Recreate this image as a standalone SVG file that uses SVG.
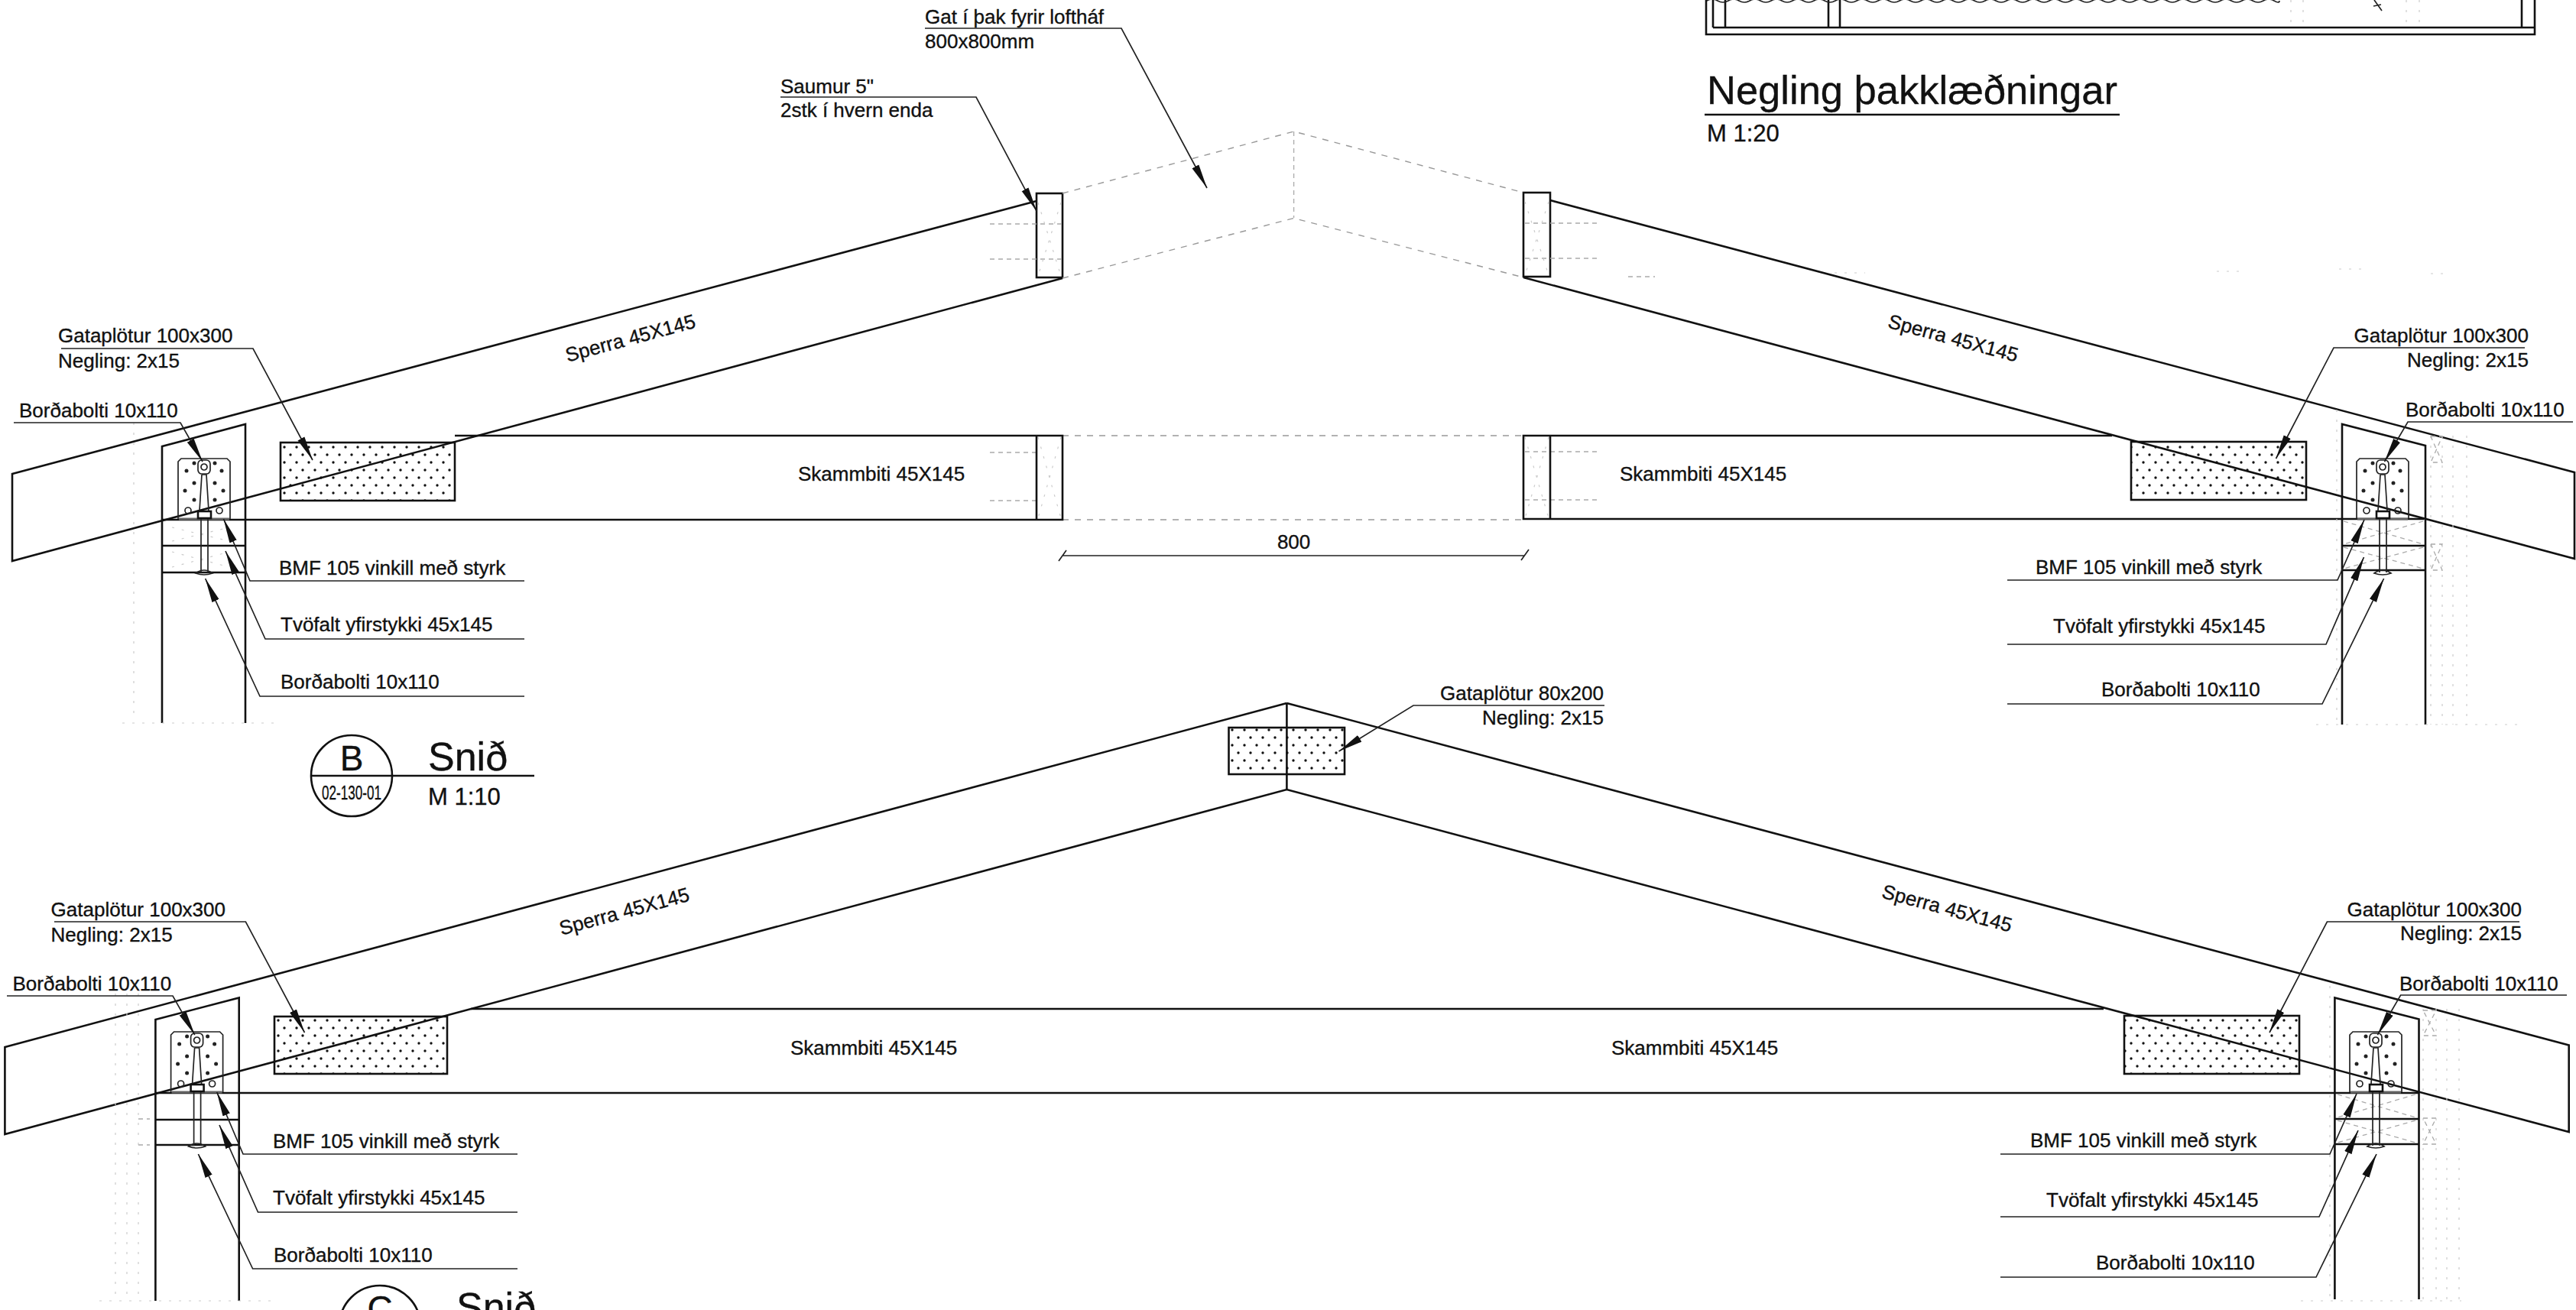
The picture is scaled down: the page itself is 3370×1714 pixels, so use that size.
<svg xmlns="http://www.w3.org/2000/svg" width="3370" height="1714" viewBox="0 0 3370 1714">
<style>
text{font-family:"Liberation Sans",Arial,sans-serif;font-size:26px;fill:#111;stroke:#111;stroke-width:.35}
.b{fill:none;stroke:#111;stroke-width:2.6}
.l{fill:none;stroke:#222;stroke-width:1.7}
.ld{fill:none;stroke:#222;stroke-width:1.7;marker-end:url(#arr)}
.h{fill:none;stroke:#aaa;stroke-width:1.3;stroke-dasharray:6 5}
.f{fill:none;stroke:#ccc;stroke-width:1.2;stroke-dasharray:3 10}
.d{fill:none;stroke:#999;stroke-width:1.4;stroke-dasharray:8 8}
.e{text-anchor:end}
.m{text-anchor:middle}
.plate{fill:url(#dots);stroke:#111;stroke-width:2.6}
</style>
<defs>
<marker id="arr" markerUnits="userSpaceOnUse" markerWidth="32" markerHeight="12" viewBox="0 0 32 12" refX="32" refY="6" orient="auto"><path d="M0,1 L32,6 L0,11 Z" fill="#111"/></marker>
<pattern id="dots" patternUnits="userSpaceOnUse" width="16" height="20"><circle cx="4" cy="5" r="1.7" fill="#111"/><circle cx="12" cy="15" r="1.7" fill="#111"/></pattern>
<g id="bracket">
<path class="l" d="M-34,68 L-34,-7 L-30,-11 L30,-11 L34,-7 L34,68"/>
<path d="M-33,68 H33" stroke="#666" stroke-width="3"/>
<g fill="#222"><circle cx="-13" cy="-5" r="2.5"/><circle cx="14" cy="-5" r="2.5"/><circle cx="-23" cy="5" r="2.5"/><circle cx="23" cy="5" r="2.5"/><circle cx="-13" cy="21" r="2.5"/><circle cx="14" cy="21" r="2.5"/><circle cx="-25" cy="31" r="2.5"/><circle cx="25" cy="31" r="2.5"/><circle cx="-13" cy="43" r="2.5"/><circle cx="14" cy="43" r="2.5"/></g>
<circle class="l" cx="-21" cy="57" r="4"/><circle class="l" cx="20" cy="57" r="4"/>
<rect class="l" x="-8" y="-9" width="16" height="18" rx="5" stroke-width="2.4"/><circle class="l" cx="0" cy="0" r="4"/>
<path class="l" d="M-3,10 L3,10 L6,57 M-3,10 L-6,57"/>
<rect class="b" x="-8" y="58" width="17" height="9"/>
<path class="l" d="M-4,68 V138 M5,68 V138"/>
<path class="l" d="M-11,139 Q0,131 11,139 Q0,143 -11,139Z"/>
</g>
</defs>
<rect width="3370" height="1714" fill="#fff"/>

<g id="negling-plan">
<path class="b" d="M2232,0 V45 H3316 V0 M2241,36 H3316 M2241,0 V36 M2257,0 V36 M2392,0 V36 M2407,0 V36 M3299,0 V36"/>
<path class="l" d="M2233,1 Q2240,-3 2247,1 T2261,1 T2275,1 T2289,1 T2303,1 T2317,1 T2331,1 T2345,1 T2359,1 T2373,1 T2387,1 T2401,1 T2415,1 T2429,1 T2443,1 T2457,1 T2471,1 T2485,1 T2499,1 T2513,1 T2527,1 T2541,1 T2555,1 T2569,1 T2583,1 T2597,1 T2611,1 T2625,1 T2639,1 T2653,1 T2667,1 T2681,1 T2695,1 T2709,1 T2723,1 T2737,1 T2751,1 T2765,1 T2779,1 T2793,1 T2807,1 T2821,1 T2835,1 T2849,1 T2863,1 T2877,1 T2891,1 T2905,1 T2919,1 T2933,1 T2947,1 T2961,1 T2975,1 T2982,1"/>
<path class="f" d="M2997,0 V34 M3013,0 V34 M3148,0 V34 M3165,0 V34"/>
<path class="l" d="M3106,0 L3116,14 M3105,8 L3115,6"/>
<text x="2233" y="136" style="font-size:52.5px">Negling þakklæðningar</text>
<path class="b" d="M2230,150 H2773"/>
<text x="2233" y="185" style="font-size:31px">M 1:20</text>
</g>

<g id="section-b">
<g id="b-rafter-left"><path class="b" d="M1356,263 L16,620 V734 L1390,364"/><rect class="b" x="1356" y="253" width="34" height="110"/></g>
<g id="b-rafter-right"><path class="b" d="M2028,262 L3368,618 V731 L1993,363"/><rect class="b" x="1993" y="252" width="35" height="110"/></g>
<g id="b-opening">
<path class="d" d="M1390,253 L1692.6,172 L1993,252 M1390,364 L1692.6,285.5 L1993,363 M1390,570 H1993 M1390,680 H1993"/>
<path class="h" d="M1692.6,172 V285"/>
<path class="h" d="M1295,293 H1390 M1295,339 H1390 M1295,592 H1356 M1295,655 H1356 M1995,292 H2090 M1995,338 H2090 M1995,591 H2090 M1995,654 H2090"/>
<path class="f" d="M1358,265 L1388,361 M1388,265 L1358,361 M1358,572 L1388,678 M1388,572 L1358,678 M1995,264 L2026,360 M2026,264 L1995,360 M1995,572 L2026,678 M2026,572 L1995,678"/>
<path class="h" d="M2130,362 H2165"/>
<path class="f" d="M2400,357 H2440 M2900,355 H2930 M3060,352 H3090 M3180,358 H3200"/>
</g>
<g id="b-collar-left"><path class="b" d="M595,570 H1390 V680 H211 M1356,570 V680"/><text x="1044" y="629">Skammbiti 45X145</text></g>
<g id="b-collar-right"><path class="b" d="M2763,570 H1993 V679 H3171 M2028,570 V679"/><text x="2119" y="629">Skammbiti 45X145</text></g>
<rect id="b-plate-left" class="plate" x="367" y="579" width="228" height="76"/>
<rect id="b-plate-right" class="plate" x="2788" y="578" width="229" height="76"/>
<g id="b-post-left"><path class="b" d="M212,946 V584 L321,555 V946 M212,714 H321 M212,749 H321"/>
<path class="f" d="M175,540 V940 M160,946 H365"/><path class="f" d="M225,690 L300,708 M225,708 L300,690 M225,722 L300,742 M225,742 L300,722"/>
<use href="#bracket" x="267" y="611"/></g>
<g id="b-post-right"><path class="b" d="M3064,948 V555 L3173,583 V948 M3064,714 H3173 M3064,746 H3173"/>
<path class="f" d="M3057,536 V948 M3180,570 V948 M3195,570 V948 M3209,570 V948 M3227,570 V948 M3030,948 H3300"/>
<path class="h" d="M3180,571 H3195 L3180,605 H3195 L3180,571 M3180,712 H3195 L3180,746 H3195 L3180,712 M3066,682 L3170,712 M3170,682 L3066,712 M3066,716 L3170,744 M3170,716 L3066,744"/>
<use href="#bracket" x="3117" y="611"/></g>
<text class="m" transform="translate(827,451) rotate(-15)">Sperra 45X145</text>
<text class="m" transform="translate(2553,451) rotate(15)">Sperra 45X145</text>
<g id="b-dimension"><path class="l" d="M1390,727 H1995 M1385,734 L1395,720 M1990,733 L2000,719"/><text class="m" x="1692.6" y="718">800</text></g>
<g id="b-title"><circle class="b" cx="460" cy="1015" r="53"/><path class="b" d="M407,1015 H699"/>
<text class="m" x="460" y="1008" style="font-size:46px">B</text>
<text class="m" x="460" y="1046" textLength="78" lengthAdjust="spacingAndGlyphs">02-130-01</text>
<text x="560" y="1008" style="font-size:52px">Snið</text><text x="560" y="1053" style="font-size:31px">M 1:10</text></g>
</g>

<g id="section-c">
<g id="c-rafters"><path class="b" d="M1683.4,920 L6.4,1370 V1484 L1683.4,1033 L3360.7,1481 V1367.6 L1683.4,920"/></g>
<rect id="c-plate-apex" class="plate" x="1607.5" y="952" width="151.5" height="61"/>
<path class="b" d="M1683.4,920 V1033"/>
<g id="c-collar"><path class="b" d="M616,1320 H2752 M203,1430 H3164"/><text x="1034" y="1380">Skammbiti 45X145</text><text x="2108" y="1380">Skammbiti 45X145</text></g>
<rect id="c-plate-left" class="plate" x="359" y="1330" width="226" height="75"/>
<rect id="c-plate-right" class="plate" x="2779" y="1329" width="229" height="76"/>
<g id="c-post-left"><path class="b" d="M203.4,1702 V1334 L312.7,1305.4 V1702 M203.4,1465 H312.7 M203.4,1498 H312.7"/>
<path class="f" d="M151,1300 V1700 M166,1300 V1700 M181,1300 V1700 M130,1702 H360"/>
<path class="h" d="M181,1464 H196 M181,1498 H196"/>
<use href="#bracket" x="257.6" y="1361"/></g>
<g id="c-post-right"><path class="b" d="M3054.4,1700 V1305.4 L3164.5,1333.5 V1700 M3054.4,1464 H3164.5 M3054.4,1497 H3164.5"/>
<path class="f" d="M3048,1290 V1700 M3170,1320 V1700 M3187,1320 V1700 M3201,1320 V1700 M3217,1320 V1700 M3010,1702 H3220"/>
<path class="h" d="M3170,1322 H3187 L3170,1355 H3187 L3170,1322 M3170,1463 H3187 L3170,1497 H3187 L3170,1463 M3058,1432 L3160,1462 M3160,1432 L3058,1462 M3058,1466 L3160,1495 M3160,1466 L3058,1495"/>
<use href="#bracket" x="3108" y="1361"/></g>
<text class="m" transform="translate(819,1201) rotate(-15)">Sperra 45X145</text>
<text class="m" transform="translate(2545,1197) rotate(15)">Sperra 45X145</text>
<g id="c-title"><circle class="b" cx="497" cy="1735" r="53"/><text class="m" x="497" y="1728" style="font-size:46px">C</text><text x="597" y="1728" style="font-size:52px">Snið</text></g>
</g>

<g id="connectors">
<polyline class="ld" points="1021,127 1277,127 1356,276"/>
<polyline class="ld" points="1210,37 1467,37 1579,246"/>
<polyline class="ld" points="80,456 331,456 409,602"/>
<polyline class="ld" points="18,553 236,553 265,604"/>
<polyline class="ld" points="686,760 327,760 292.5,679"/>
<polyline class="ld" points="686,836 347,836 295,721"/>
<polyline class="ld" points="686,911 340,911 268.6,757"/>
<polyline class="ld" points="3303,455 3053,455 2977.5,600"/>
<polyline class="ld" points="3366,552 3150,552 3119.5,604"/>
<polyline class="ld" points="2626,759 3058,759 3093,680"/>
<polyline class="ld" points="2626,843 3043,843 3092.5,729"/>
<polyline class="ld" points="2626,921 3038,921 3118.6,757"/>
<polyline class="ld" points="2099,923 1849,923 1751.5,983"/>
<polyline class="ld" points="71,1206 321.4,1206 398.5,1351"/>
<polyline class="ld" points="9,1303 226,1303 254.8,1354"/>
<polyline class="ld" points="677,1510 318,1510 283.7,1429"/>
<polyline class="ld" points="677,1586 337.5,1586 287,1472"/>
<polyline class="ld" points="677,1660 330.6,1660 259.4,1510"/>
<polyline class="ld" points="3296,1206 3044.4,1206 2969,1351"/>
<polyline class="ld" points="3358,1302 3140.6,1302 3110.4,1354"/>
<polyline class="ld" points="2617,1510 3048,1510 3083,1431"/>
<polyline class="ld" points="2617,1592 3034,1592 3085,1479"/>
<polyline class="ld" points="2617,1671 3030,1671 3109,1510"/>
</g>

<g id="labels">
<text x="1021" y="122">Saumur 5"</text><text x="1021" y="153">2stk í hvern enda</text>
<text x="1210" y="31">Gat í þak fyrir loftháf</text><text x="1210" y="63">800x800mm</text>
<text x="76" y="448">Gataplötur 100x300</text><text x="76" y="481">Negling: 2x15</text>
<text x="25" y="546">Borðabolti 10x110</text>
<text x="365" y="752">BMF 105 vinkill með styrk</text>
<text x="367" y="826">Tvöfalt yfirstykki 45x145</text>
<text x="367" y="901">Borðabolti 10x110</text>
<text class="e" x="3308" y="448">Gataplötur 100x300</text><text class="e" x="3308" y="480">Negling: 2x15</text>
<text x="3147" y="545">Borðabolti 10x110</text>
<text x="2663" y="751">BMF 105 vinkill með styrk</text>
<text x="2686" y="828">Tvöfalt yfirstykki 45x145</text>
<text x="2749" y="911">Borðabolti 10x110</text>
<text class="e" x="2098" y="916">Gataplötur 80x200</text><text class="e" x="2098" y="948">Negling: 2x15</text>
<text x="66.6" y="1199">Gataplötur 100x300</text><text x="66.6" y="1232">Negling: 2x15</text>
<text x="16.5" y="1296">Borðabolti 10x110</text>
<text x="357" y="1502">BMF 105 vinkill með styrk</text>
<text x="357" y="1576">Tvöfalt yfirstykki 45x145</text>
<text x="358" y="1651">Borðabolti 10x110</text>
<text class="e" x="3299" y="1199">Gataplötur 100x300</text><text class="e" x="3299" y="1230">Negling: 2x15</text>
<text x="3139" y="1296">Borðabolti 10x110</text>
<text x="2656" y="1501">BMF 105 vinkill með styrk</text>
<text x="2677" y="1579">Tvöfalt yfirstykki 45x145</text>
<text x="2742" y="1661">Borðabolti 10x110</text>
</g>
</svg>
